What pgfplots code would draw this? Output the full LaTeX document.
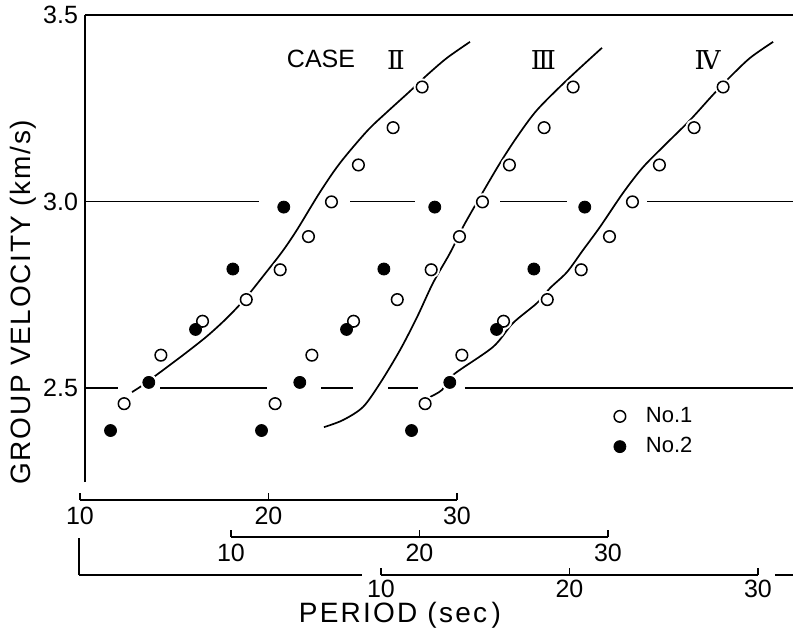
\documentclass[border=0pt]{standalone}
\usepackage{fontspec}
\setmainfont{Liberation Sans}
\newfontfamily\romfont{DejaVu Serif}
\usepackage{pgfplots}
\usepackage{pgfplotstable}
\pgfplotsset{compat=1.18}

% observed group velocities (period in s, velocity in km/s)
\pgfplotstableread{
s v
12.34 2.458
14.29 2.588
16.50 2.679
18.82 2.737
20.62 2.817
22.12 2.906
23.34 2.999
24.77 3.098
26.61 3.198
28.15 3.307
}\noone
\pgfplotstableread{
s v
11.62 2.386
13.65 2.515
16.13 2.657
18.11 2.819
20.81 2.985
}\notwo

% theoretical curves, each in its own period scale
\pgfplotstableread{
s v
12.76 2.489
13.34 2.508
13.98 2.532
15.46 2.588
16.74 2.639
17.80 2.688
18.75 2.739
19.81 2.806
20.72 2.865
21.51 2.924
22.73 3.025
23.79 3.103
25.23 3.189
26.29 3.240
27.51 3.296
28.41 3.339
29.47 3.385
30.69 3.428
}\caseII
\pgfplotstableread{
s v
14.93 2.395
15.94 2.414
17.00 2.449
17.91 2.513
18.97 2.602
19.87 2.690
20.72 2.782
21.62 2.862
22.31 2.932
23.21 3.012
24.27 3.103
25.17 3.173
26.23 3.245
27.83 3.326
29.68 3.412
}\caseIII
\pgfplotstableread{
s v
12.60 2.476
13.24 2.495
13.82 2.535
15.94 2.610
17.00 2.674
18.28 2.728
18.97 2.768
19.87 2.811
20.72 2.870
21.62 2.932
22.84 3.023
23.90 3.092
25.17 3.157
26.39 3.218
27.61 3.286
28.52 3.334
29.58 3.385
30.80 3.428
}\caseIV

\pgfplotsset{
  panel/.style={scale only axis, width=354pt, height=233.5pt,
    ymin=2.248, ymax=3.5, at={(42.5pt,-241pt)}, anchor=south west, clip=false},
  curve/.style={black, line width=0.85pt, smooth, forget plot},
  halo/.style={only marks, mark=*, mark size=4.1pt, white, forget plot},
  open/.style={only marks, mark=o, mark size=2.9pt, black, mark options={line width=0.75pt}},
  filled/.style={only marks, mark=*, mark size=3pt, black},
  hline/.style={black, line width=0.8pt, forget plot},
  pscale/.style={scale only axis, width=188.5pt, height=10pt,
    xmin=10, xmax=30, ymin=0, ymax=1, hide y axis, axis x line*=bottom,
    axis line style={-, line width=0.8pt}, xtick={10,20,30},
    tick align=inside, major tick length=3.5pt,
    tick style={black, line width=0.7pt}, anchor=south west, clip=false,
    /pgf/number format/assume math mode=true,
    tick label style={font=\fontsize{12.5}{14}\selectfont}},
}

\begin{document}
\begin{tikzpicture}
\useasboundingbox (0,0) rectangle (396.5pt,-316.5pt);

% case II axis, with the frame
\begin{axis}[panel, xmin=10.265, xmax=47.825,
  axis x line*=top, axis y line*=left, axis line style={-, line width=0.8pt},
  xtick=\empty, ytick={2.5,3.0,3.5}, ytick style={draw=none},
  /pgf/number format/assume math mode=true,
  yticklabel style={/pgf/number format/fixed, /pgf/number format/precision=1,
    /pgf/number format/fixed zerofill, font=\fontsize{12.5}{14}\selectfont},
  ylabel={\addfontfeature{LetterSpace=6}GROUP VELOCITY (km/s)},
  ylabel style={at={(axis description cs:-0.0876,0.385)}, anchor=center,
    font=\fontsize{14}{16}\selectfont},
  legend style={draw=none, fill=none, font=\fontsize{11}{13}\selectfont,
    at={(axis description cs:0.738,0.108)}, anchor=west, row sep=2pt,
    /tikz/every odd column/.append style={column sep=8pt}},
  legend cell align=left]
\addplot[hline] coordinates {(10.265,3) (19.496,3)};
\addplot[hline] coordinates {(24.324,3) (27.772,3)};
\addplot[hline] coordinates {(32.281,3) (35.836,3)};
\addplot[hline] coordinates {(40.080,3) (47.825,3)};
\addplot[hline] coordinates {(10.265,2.5) (12.016,2.5)};
\addplot[hline] coordinates {(14.244,2.5) (19.920,2.5)};
\addplot[hline] coordinates {(22.785,2.5) (24.483,2.5)};
\addplot[hline] coordinates {(26.340,2.5) (27.931,2.5)};
\addplot[hline] coordinates {(30.424,2.5) (47.825,2.5)};
\addplot[curve] table {\caseII};
\addplot[halo] table {\noone};
\addplot[halo] table {\notwo};
\addplot[open] table {\noone};
\addlegendentry{No.1}
\addplot[filled] table {\notwo};
\addlegendentry{No.2}
\end{axis}

% case III
\begin{axis}[panel, hide axis, xmin=2.255, xmax=39.814]
\addplot[curve] table {\caseIII};
\addplot[halo] table {\noone};
\addplot[halo] table {\notwo};
\addplot[open, forget plot] table {\noone};
\addplot[filled, forget plot] table {\notwo};
\end{axis}

% case IV
\begin{axis}[panel, hide axis, xmin=-5.703, xmax=31.857]
\addplot[curve] table {\caseIV};
\addplot[halo] table {\noone};
\addplot[halo] table {\notwo};
\addplot[open, forget plot] table {\noone};
\addplot[filled, forget plot] table {\notwo};
\end{axis}

% period scales
\begin{axis}[pscale, at={(40pt,-250pt)}]
\end{axis}
\begin{axis}[pscale, at={(115.5pt,-268.5pt)}]
\end{axis}
\begin{axis}[pscale, at={(190.5pt,-287.5pt)},
  xticklabel style={inner sep=1.5pt, yshift=-1pt}]
\draw[line width=0.8pt] (axis cs:-6.02,0) -- (axis cs:8.99,0);
\draw[line width=0.8pt] (axis cs:-6.02,0) -- ++(0pt,18.5pt);
\draw[line width=0.8pt] (axis cs:30.9,0) -- (axis cs:31.86,0);
\end{axis}

\node[font=\fontsize{12.5}{14}\selectfont] at (160.5pt,-29.5pt) {CASE};
\node[font=\fontsize{13}{15}\selectfont\romfont] at (198pt,-30pt) {Ⅱ};
\node[font=\fontsize{13}{15}\selectfont\romfont] at (271.75pt,-30pt) {Ⅲ};
\node[font=\fontsize{13}{15}\selectfont\romfont] at (353.75pt,-30pt) {Ⅳ};
\node[font=\fontsize{14}{16}\selectfont, inner sep=0pt] at (200pt,-307.5pt)
  {\addfontfeature{LetterSpace=8}PERIOD (sec\,)};
\end{tikzpicture}
\end{document}
